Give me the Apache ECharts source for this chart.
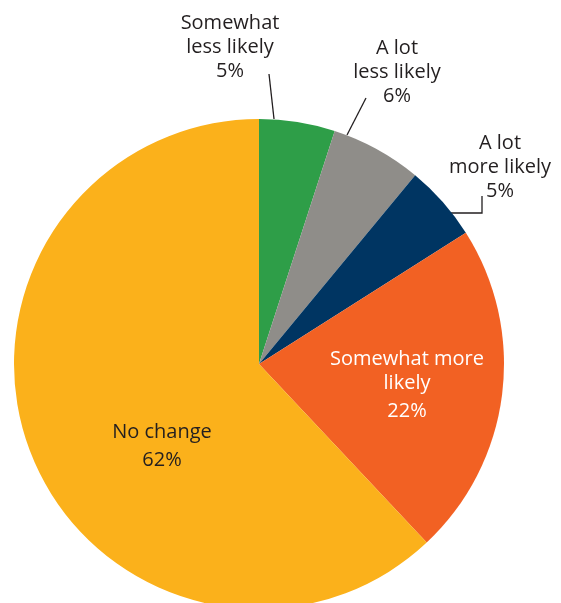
<!DOCTYPE html>
<html>
<head>
<meta charset="utf-8">
<style>html,body{margin:0;padding:0;background:#fff;}#c{width:561px;height:603px;}</style>
<script src="https://cdn.jsdelivr.net/npm/echarts@6/dist/echarts.min.js"></script>
</head>
<body>
<div id="c"></div>
<script>
const categories = ['Somewhat\nless likely', 'A lot\nless likely', 'A lot\nmore likely', 'Somewhat more\nlikely', 'No change'];
const values = [5, 6, 5, 22, 62];
const colors = ['#2e9e48', '#8f8d89', '#003562', '#f26123', '#fbb11b'];
const insideLabel = [false, false, false, true, true];
const labelColors = ['#231f20', '#231f20', '#231f20', '#ffffff', '#231f20'];

// label placement (annotation layout only)
const labelPos = [[230, 47], [397, 72], [500, 167], [407, 383], [162, 444]];
const leaderLines = [
  [[274, 119], [269, 74]],
  [[347, 135], [366, 98]],
  [[428, 213], [482, 213], [482, 196]],
  null,
  null
];

const chart = echarts.init(document.getElementById('c'), null, {renderer: 'canvas'});
const data = values.map((v, i) => ({
  value: v,
  name: categories[i],
  itemStyle: {color: colors[i]},
  label: {color: labelColors[i]},
  labelLine: {show: !!leaderLines[i]}
}));

chart.setOption({
  animation: false,
  series: [{
    type: 'pie',
    center: [259, 364],
    radius: 245,
    startAngle: 90,
    clockwise: true,
    avoidLabelOverlap: false,
    itemStyle: {borderWidth: 0},
    emphasis: {disabled: true},
    label: {
      show: true,
      position: 'outside',
      fontFamily: 'Open Sans',
      fontSize: 20,
      lineHeight: 24,
      align: 'center',
      formatter: function (p) {
        const lines = p.name.split('\n').map(s => '{n|' + s + '}').join('\n');
        return lines + '\n' + (insideLabel[p.dataIndex] ? '{v|' : '{n|') + p.value + '%}';
      },
      rich: {
        n: {fontFamily: 'Open Sans', fontSize: 20, lineHeight: 24, align: 'center'},
        v: {fontFamily: 'Open Sans', fontSize: 20, lineHeight: 24, align: 'center', padding: [8, 0, 0, 0]}
      }
    },
    labelLine: {
      lineStyle: {color: '#231f20', width: 1.3}
    },
    labelLayout: function (params) {
      const i = params.dataIndex;
      const res = {
        x: labelPos[i][0],
        y: labelPos[i][1],
        align: 'center',
        verticalAlign: 'middle'
      };
      if (leaderLines[i]) res.labelLinePoints = leaderLines[i];
      return res;
    },
    data: data
  }]
});
</script>
</body>
</html>
